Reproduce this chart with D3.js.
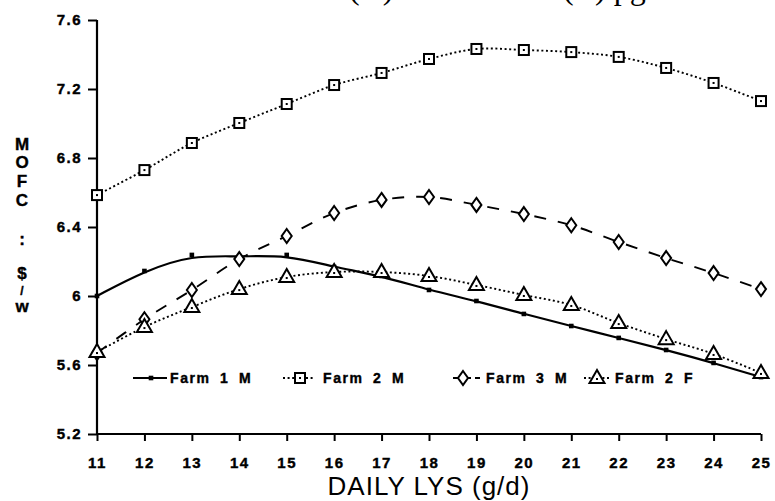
<!DOCTYPE html>
<html>
<head>
<meta charset="utf-8">
<script src="https://cdn.jsdelivr.net/npm/d3@7/dist/d3.min.js"></script>
<style>
  body { margin: 0; background: #fff; }
  svg { display: block; }
  .tick text { font-family: "Liberation Sans", Arial, sans-serif; font-weight: bold; font-size: 15px; letter-spacing: 1.5px; fill: #000; stroke: #000; stroke-width: 0.4px; }
  .legend text { font-family: "Liberation Sans", Arial, sans-serif; font-weight: bold; font-size: 14px; letter-spacing: 1.6px; word-spacing: 4px; fill: #000; stroke: #000; stroke-width: 0.4px; }
</style>
</head>
<body>
<svg id="chart" width="775" height="501"></svg>
<script>
var lys = [11, 12, 13, 14, 15, 16, 17, 18, 19, 20, 21, 22, 23, 24, 25];

var farm1M = [6.00, 6.145, 6.238, 6.226, 6.238, 6.168, 6.116, 6.035, 5.971, 5.896, 5.826, 5.757, 5.687, 5.612, 5.53];
var farm2M = [6.585, 6.73, 6.887, 7.003, 7.113, 7.223, 7.293, 7.374, 7.432, 7.426, 7.414, 7.386, 7.322, 7.235, 7.13];
var farm3M = [5.67, 5.865, 6.035, 6.214, 6.348, 6.481, 6.557, 6.574, 6.528, 6.475, 6.41, 6.313, 6.22, 6.133, 6.04];
var farm2F = [5.675, 5.82, 5.936, 6.04, 6.11, 6.139, 6.139, 6.116, 6.064, 6.006, 5.948, 5.843, 5.75, 5.664, 5.554];

var seriesNames = ['Farm 1 M', 'Farm 2 M', 'Farm 3 M', 'Farm 2 F'];
var yTicks = [5.2, 5.6, 6, 6.4, 6.8, 7.2, 7.6];
var yTitle = ['M', 'O', 'F', 'C', ':', '$', '/', 'w'];

var series = [
  { name: seriesNames[0], values: farm1M, marker: 'dot',      dash: null,    curve: d3.curveBasis },
  { name: seriesNames[1], values: farm2M, marker: 'square',   dash: '2,2.6', curve: d3.curveCatmullRom },
  { name: seriesNames[2], values: farm3M, marker: 'diamond',  dash: '12,12', curve: d3.curveCatmullRom },
  { name: seriesNames[3], values: farm2F, marker: 'triangle', dash: '2,2.6', curve: d3.curveCatmullRom }
];

var svg = d3.select('#chart');

var x = d3.scaleLinear().domain([11, 25]).range([97, 761]);
var y = d3.scaleLinear().domain([5.2, 7.6]).range([434, 20]);

// clipped caption at the very top of the scan
svg.append('g')
  .attr('font-family', '"Liberation Serif", "Times New Roman", serif')
  .attr('font-size', 32)
  .selectAll('text')
  .data([{ t: '(A)', x: 349 }, { t: '(B) pg', x: 563 }])
  .join('text')
  .attr('x', function(d) { return d.x; })
  .attr('y', -1)
  .text(function(d) { return d.t; });

// axes
var yAxis = svg.append('g')
  .attr('transform', 'translate(' + x(11) + ',0)')
  .call(d3.axisLeft(y).tickValues(yTicks).tickSize(9).tickPadding(6)
    .tickFormat(function(d) { return String(d); }));

var xAxis = svg.append('g')
  .attr('transform', 'translate(0,' + y(5.2) + ')')
  .call(d3.axisBottom(x).tickValues(lys).tickSize(7).tickFormat(d3.format('d')));

[yAxis, xAxis].forEach(function(a) {
  a.select('.domain').attr('stroke', '#000').attr('stroke-width', 2.2);
  a.selectAll('.tick line').attr('stroke', '#000').attr('stroke-width', 2);
});
yAxis.select('.domain').attr('d', 'M0,' + y(7.6) + 'V' + y(5.2));
xAxis.select('.domain').attr('d', 'M' + x(11) + ',0H' + x(25));
xAxis.selectAll('.tick text').attr('y', 34).attr('dy', 0);

// axis titles
svg.append('text')
  .attr('x', 429)
  .attr('y', 495)
  .attr('text-anchor', 'middle')
  .attr('font-family', '"Liberation Sans", Arial, sans-serif')
  .attr('font-size', 26)
  .attr('letter-spacing', 1)
  .text('DAILY LYS (g/d)');

var titleY = [150, 168, 187, 206, 245, 279, 295, 312];
svg.append('g')
  .attr('font-family', '"Liberation Sans", Arial, sans-serif')
  .attr('font-weight', 'bold')
  .attr('text-anchor', 'middle')
  .attr('stroke', '#000')
  .attr('stroke-width', 0.4)
  .selectAll('text')
  .data(yTitle)
  .join('text')
  .attr('x', 22)
  .attr('y', function(d, i) { return titleY[i]; })
  .attr('font-size', function(d) { return d === '/' ? 12 : 17; })
  .text(function(d) { return d; });

// markers
function drawMarker(g, type) {
  if (type === 'dot') {
    g.append('rect').attr('x', -2.3).attr('y', -2.3).attr('width', 4.6).attr('height', 4.6).attr('fill', '#000');
    return;
  }
  var shape;
  if (type === 'square') {
    shape = g.append('rect').attr('x', -5).attr('y', -5).attr('width', 10).attr('height', 10);
  } else if (type === 'diamond') {
    shape = g.append('path').attr('d', 'M0,-7L5,0L0,7L-5,0Z');
  } else {
    shape = g.append('path').attr('d', 'M0,-8L7.5,5L-7.5,5Z');
  }
  shape.attr('fill', '#fff').attr('stroke', '#000').attr('stroke-width', 2);
  if (type !== 'diamond') {
    g.append('rect').attr('x', -1).attr('y', type === 'triangle' ? 0 : -1)
      .attr('width', 2).attr('height', 2).attr('fill', '#000');
  }
}

var plot = svg.append('g');

series.forEach(function(s) {
  var line = d3.line()
    .x(function(d, i) { return x(lys[i]); })
    .y(function(d) { return y(d); })
    .curve(s.curve);
  plot.append('path')
    .datum(s.values)
    .attr('fill', 'none')
    .attr('stroke', '#000')
    .attr('stroke-width', s.dash ? 1.9 : 2.2)
    .attr('stroke-dasharray', s.dash)
    .attr('d', line);
});

series.forEach(function(s) {
  plot.selectAll(null)
    .data(s.values)
    .join('g')
    .attr('transform', function(d, i) { return 'translate(' + x(lys[i]) + ',' + y(d) + ')'; })
    .each(function() { drawMarker(d3.select(this), s.marker); });
});

// legend
var legendPos = [
  { x0: 133, x1: 167, m: 151, t: 170 },
  { x0: 283, x1: 313, m: 300, t: 323 },
  { x0: 453, x1: 480, m: 463, t: 486 },
  { x0: 584, x1: 611, m: 597, t: 615 }
];
var legendY = 378;

var legend = svg.append('g').attr('class', 'legend');
series.forEach(function(s, i) {
  var p = legendPos[i];
  var item = legend.append('g');
  item.append('line')
    .attr('x1', p.x0).attr('x2', p.x1)
    .attr('y1', legendY).attr('y2', legendY)
    .attr('stroke', '#000')
    .attr('stroke-width', s.dash ? 1.9 : 2.2)
    .attr('stroke-dasharray', s.marker === 'diamond' ? '7,4' : s.dash);
  drawMarker(item.append('g').attr('transform', 'translate(' + p.m + ',' + legendY + ')'), s.marker);
  item.append('text')
    .attr('x', p.t)
    .attr('y', legendY + 5)
    .text(s.name);
});
</script>
</body>
</html>
